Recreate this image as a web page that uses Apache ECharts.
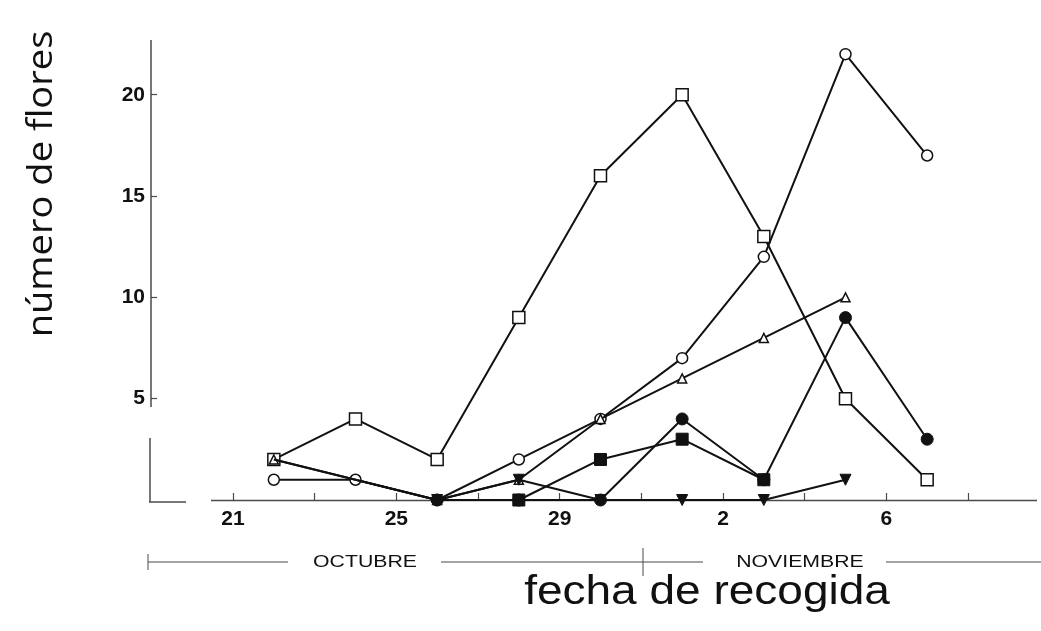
<!DOCTYPE html>
<html>
<head>
<meta charset="utf-8">
<script src="https://cdn.jsdelivr.net/npm/echarts@6/dist/echarts.min.js"></script>
<style>html,body{margin:0;padding:0;background:#fff}#c{width:1041px;height:631px}</style>
</head>
<body>
<div id="c"></div>
<script>
// day index counted from 21 October (0 = Oct 21)
const sampleDays   = [1, 3, 5, 7, 9, 11, 13, 15, 17];
const openSquare   = [2, 4, 2, 9, 16, 20, 13, 5, 1];
const openCircle   = [1, 1, 0, 2, 4, 7, 12, 22, 17];
const openTriangle = [2, null, 0, 1, 4, 6, 8, 10, null];
const filledSquare = [null, null, null, 0, 2, 3, 1, null, null];
const filledCircle = [null, null, 0, 0, 0, 4, 1, 9, 3];
const downTriangle = [2, null, 0, 1, 0, 0, 0, 1, null];

const xTickDays  = [0, 2, 4, 6, 8, 10, 12, 14, 16, 18];
const xLabelDays = [0, 4, 8, 12, 16];
const xLabels    = ['21', '25', '29', '2', '6'];
const yTicks     = [5, 10, 15, 20];
const yTitle = 'número de flores';
const xTitle = 'fecha de recogida';
const months = ['OCTUBRE', 'NOVIEMBRE'];

const INK = '#111';
const AX = '#4a4a4a';

function pairs(vals) { return sampleDays.map((d, i) => [d, vals[i]]); }

function mkSeries(vals, symbol, size, filled, z, opts) {
  return Object.assign({
    type: 'line',
    data: pairs(vals),
    connectNulls: true,
    symbol: symbol,
    symbolSize: size,
    z: z,
    lineStyle: { color: INK, width: 2 },
    itemStyle: filled ? { color: INK, borderColor: INK, borderWidth: 1 }
                      : { color: '#fff', borderColor: INK, borderWidth: 1.5 },
    emphasis: { disabled: true },
    animation: false
  }, opts || {});
}

const chart = echarts.init(document.getElementById('c'), null, { renderer: 'canvas' });
chart.setOption({
  backgroundColor: '#fff',
  animation: false,
  grid: { left: 151, right: 4, top: 40, bottom: 131 },
  xAxis: {
    type: 'value', min: -2.008, max: 19.69,
    axisLine: { show: false, onZero: false },
    splitLine: { show: false },
    axisTick: { show: true, inside: true, length: 7, customValues: xTickDays, lineStyle: { color: AX, width: 1.2 } },
    axisLabel: {
      customValues: xLabelDays, margin: 9,
      formatter: v => xLabels[xLabelDays.indexOf(v)] || '',
      fontFamily: 'Liberation Sans', fontWeight: 'bold', fontSize: 21, color: INK
    }
  },
  yAxis: {
    type: 'value', min: 0, max: 22.7,
    axisLine: { show: false, onZero: false },
    splitLine: { show: false },
    axisTick: { show: true, inside: true, length: 6, customValues: yTicks, lineStyle: { color: AX, width: 1.2 } },
    axisLabel: {
      customValues: yTicks, margin: 6,
      fontFamily: 'Liberation Sans', fontWeight: 'bold', fontSize: 21, color: INK
    }
  },
  series: [
    mkSeries(openSquare, 'rect', 12, false, 2),
    mkSeries(openCircle, 'circle', 11, false, 3),
    mkSeries(openTriangle, 'triangle', 9, false, 4),
    mkSeries(filledSquare, 'rect', 12, true, 5),
    mkSeries(filledCircle, 'circle', 12, true, 6),
    mkSeries(downTriangle, 'triangle', 11, true, 7, {
      symbolRotate: 180,
      symbolSize: (v, p) => (p.dataIndex === 0 ? 0 : 11)
    })
  ],
  graphic: [
    // x axis line (starts right of the y-axis foot)
    { type: 'line', z: 1, shape: { x1: 211, y1: 500.5, x2: 1037, y2: 500.5 }, style: { stroke: AX, lineWidth: 1.5 } },
    // broken y axis line
    { type: 'line', shape: { x1: 151, y1: 40, x2: 151, y2: 407 }, style: { stroke: AX, lineWidth: 1.5 } },
    { type: 'line', shape: { x1: 150, y1: 438, x2: 150, y2: 502 }, style: { stroke: AX, lineWidth: 1.5 } },
    { type: 'line', shape: { x1: 149, y1: 502, x2: 186, y2: 502 }, style: { stroke: AX, lineWidth: 1.5 } },
    // month bar
    { type: 'line', shape: { x1: 148, y1: 554, x2: 148, y2: 570 }, style: { stroke: AX, lineWidth: 1 } },
    { type: 'line', shape: { x1: 148, y1: 562, x2: 288, y2: 562 }, style: { stroke: AX, lineWidth: 1.2 } },
    { type: 'text', x: 365, y: 562, style: { text: months[0], fontFamily: 'Liberation Sans', fontSize: 17, fill: INK, align: 'center', verticalAlign: 'middle' }, scaleX: 1.25 },
    { type: 'line', shape: { x1: 441, y1: 562, x2: 703, y2: 562 }, style: { stroke: AX, lineWidth: 1 } },
    { type: 'line', shape: { x1: 643, y1: 548, x2: 643, y2: 576 }, style: { stroke: AX, lineWidth: 1 } },
    { type: 'text', x: 800, y: 562, style: { text: months[1], fontFamily: 'Liberation Sans', fontSize: 17, fill: INK, align: 'center', verticalAlign: 'middle' }, scaleX: 1.25 },
    { type: 'line', shape: { x1: 886, y1: 562, x2: 1041, y2: 562 }, style: { stroke: AX, lineWidth: 1.2 } },
    // axis titles
    { type: 'text', x: 707, y: 593, style: { text: xTitle, fontFamily: 'Liberation Sans', fontSize: 40, fill: INK, align: 'center', verticalAlign: 'middle' }, scaleX: 1.15 },
    { type: 'text', x: 42, y: 184, rotation: Math.PI / 2, style: { text: yTitle, fontFamily: 'Open Sans', fontSize: 34, fill: INK, align: 'center', verticalAlign: 'middle' }, scaleX: 1.12 }
  ]
});
</script>
</body>
</html>
